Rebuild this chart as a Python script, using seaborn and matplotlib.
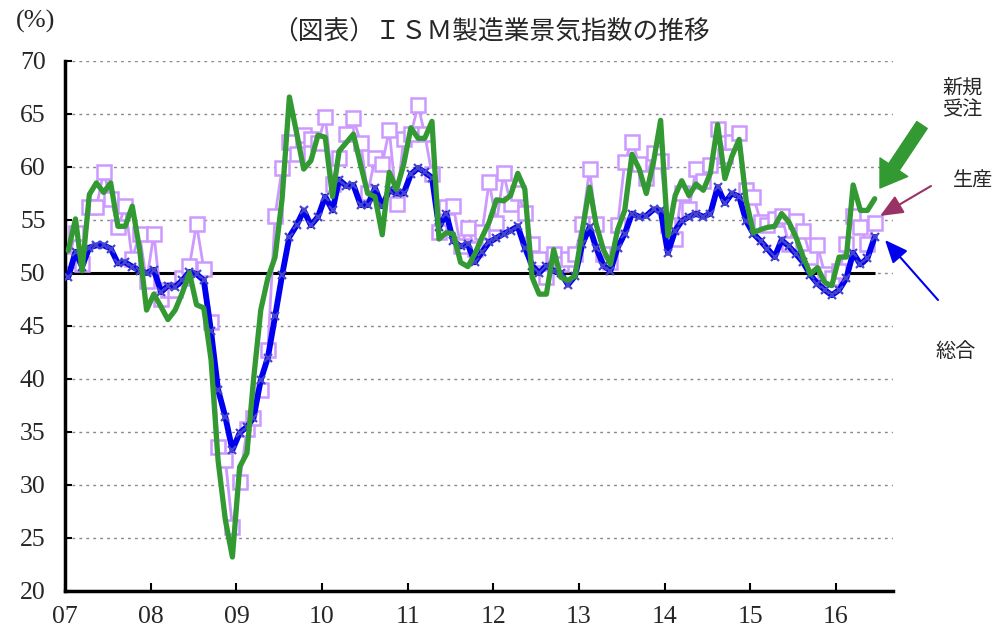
import numpy as np
import pandas as pd
import matplotlib
matplotlib.use('Agg')
import matplotlib.pyplot as plt
import matplotlib.dates as mdates
import seaborn as sns

# monthly values, Jan 2007 - Jun 2016
start_month = '2007-01-01'

sogo = [49.6, 52.0, 50.6, 52.4, 52.6, 52.6, 52.3, 50.9, 51.0, 50.6, 50.2, 50.0,
        50.3, 48.2, 48.8, 48.7, 49.3, 50.1, 49.9, 49.3, 44.5, 39.0, 36.4, 33.3,
        34.9, 35.5, 36.3, 39.9, 42.0, 45.9, 49.8, 53.4, 54.5, 55.9, 54.5, 55.3,
        57.2, 55.9, 58.8, 58.2, 58.3, 56.4, 56.4, 58.0, 56.3, 57.8, 57.5, 57.5,
        59.3, 59.9, 59.5, 59.0, 54.3, 55.6, 53.0, 52.5, 52.7, 51.0, 52.0, 52.9,
        53.3, 53.7, 54.0, 54.4, 52.4, 50.7, 50.0, 50.7, 50.2, 50.0, 48.9, 49.7,
        52.7, 54.3, 52.4, 50.7, 50.2, 52.4, 53.7, 55.6, 55.3, 55.4, 56.0, 55.9,
        51.9, 54.0, 54.9, 55.3, 55.6, 55.3, 55.6, 58.1, 56.6, 57.5, 57.2, 54.9,
        53.7, 53.0, 52.3, 51.5, 53.1, 52.5, 51.8, 51.0, 49.8, 49.0, 48.4, 47.9,
        48.4, 49.5, 51.9, 50.8, 51.4, 53.4]

seisan = [51.2, 53.8, 50.8, 56.2, 56.2, 59.5, 57.0, 54.3, 56.3, 51.3, 53.7, 49.2,
          53.7, 47.5, 48.4, 48.4, 49.5, 50.7, 54.6, 50.4, 45.4, 33.6, 32.4, 26.0,
          30.3, 35.3, 36.3, 39.0, 42.7, 55.4, 59.9, 62.4, 61.2, 63.0, 62.6, 62.3,
          64.7, 58.4, 60.8, 63.1, 64.6, 62.3, 57.5, 60.8, 60.3, 63.5, 56.5, 62.6,
          63.1, 65.8, 63.1, 59.3, 53.9, 56.2, 56.3, 52.5, 54.2, 52.3, 53.9, 58.6,
          54.7, 59.4, 56.5, 57.5, 55.7, 52.7, 51.3, 49.6, 51.8, 50.8, 51.3, 51.8,
          54.6, 59.8, 54.6, 51.8, 51.0, 54.5, 60.5, 62.4, 60.3, 59.0, 61.3, 60.6,
          54.5, 53.2, 57.5, 56.0, 59.8, 58.7, 60.2, 63.6, 61.0, 62.4, 63.2, 57.8,
          57.2, 54.8, 54.5, 55.1, 55.4, 52.7, 54.9, 54.0, 51.5, 52.6, 49.9, 49.5,
          50.2, 52.7, 55.4, 54.3, 52.7, 54.7]

juchu = [52.1, 55.1, 50.2, 57.4, 58.5, 57.6, 58.5, 54.4, 54.4, 56.3, 52.3, 46.5,
         48.0, 46.8, 45.6, 46.5, 48.1, 50.0, 47.0, 46.7, 41.8, 32.3, 26.7, 23.2,
         31.7, 33.0, 39.9, 46.5, 49.5, 51.5, 57.0, 66.6, 63.2, 59.8, 60.6, 63.0,
         62.8, 57.2, 61.5, 62.3, 63.1, 60.2, 57.5, 57.2, 53.6, 59.5, 57.9, 60.2,
         63.7, 62.7, 62.7, 64.3, 53.2, 53.8, 53.7, 51.0, 50.6, 51.8, 53.4, 54.8,
         56.9, 56.8, 57.3, 59.4, 57.9, 49.6, 48.0, 48.0, 52.2, 49.6, 49.3, 49.7,
         54.0, 58.1, 54.6, 52.2, 50.8, 54.1, 55.9, 61.2, 59.8, 57.5, 60.5, 64.4,
         53.5, 57.3, 58.7, 57.3, 58.4, 57.8, 59.4, 64.0, 58.9, 61.0, 62.6, 56.8,
         53.8, 54.1, 54.3, 54.4, 55.6, 54.8, 53.4, 51.5, 49.9, 50.5, 49.1, 48.8,
         51.5, 51.5, 58.3, 55.9, 55.9, 57.0]

year_labels = ['07', '08', '09', '10', '11', '12', '13', '14', '15', '16']

title = '（図表）ＩＳＭ製造業景気指数の推移'
label_juchu = '新規\n受注'
label_seisan = '生産'
label_sogo = '総合'

months = pd.date_range(start_month, periods=len(sogo), freq='MS') + pd.Timedelta(days=14)
df = pd.DataFrame({'month': months, 'sogo': sogo, 'seisan': seisan, 'juchu': juchu})

sns.set_theme(style='white')
plt.rcParams['font.family'] = ['Liberation Serif', 'Noto Sans CJK JP']

GREEN = '#339933'
BLUE = '#0000ee'
PURPLE = '#cc99ff'

fig = plt.figure(figsize=(10.07, 6.33), dpi=100)
ax = fig.add_axes([0.0645, 0.0664, 0.8223, 0.8373])

ax.hlines(50, months[0], months[-1], color='black', lw=2.2, zorder=1.5)

sns.lineplot(data=df, x='month', y='seisan', ax=ax, color=PURPLE, lw=2,
             marker='s', markersize=9.5, markerfacecolor='white',
             markeredgecolor=PURPLE, markeredgewidth=1.8, zorder=2)
sns.lineplot(data=df, x='month', y='sogo', ax=ax, color=BLUE, lw=4.2,
             marker='x', markersize=6, markeredgecolor='#4444cc',
             markeredgewidth=1.6, zorder=3)
sns.lineplot(data=df, x='month', y='juchu', ax=ax, color=GREEN, lw=3.8, zorder=4)

ax.set_ylim(20, 70)
ax.set_yticks(np.arange(20, 71, 5))
ax.set_xlim(pd.Timestamp(start_month), pd.Timestamp(start_month) + pd.DateOffset(months=116))
ax.xaxis.set_major_locator(mdates.YearLocator())
ax.set_xticks(ax.get_xticks())
ax.set_xticklabels(year_labels)
ax.set_xlabel('')
ax.set_ylabel('')

ax.yaxis.grid(True, linestyle=(0, (2, 3)), color='#888888', lw=1)
ax.set_axisbelow(True)
for side in ['top', 'right']:
    ax.spines[side].set_visible(False)
for side in ['left', 'bottom']:
    ax.spines[side].set_color('black')
    ax.spines[side].set_linewidth(2.5)

ax.tick_params(axis='y', direction='in', length=5, width=1.5, color='black',
               labelsize=18.5, pad=14, left=True)
ax.tick_params(axis='x', direction='in', length=6, width=1.5, color='black',
               labelsize=18.5, pad=11, bottom=True)

fig.text(491 / 1007, 1 - 32 / 633, title, ha='center', va='center', fontsize=18.5)
fig.text(36 / 1007, 1 - 21 / 633, '(%)', ha='center', va='center', fontsize=19)

fig.text(963 / 1007, 1 - 100 / 633, label_juchu, ha='center', va='center',
         fontsize=14.5, linespacing=1.25)
fig.text(973 / 1007, 1 - 182 / 633, label_seisan, ha='center', va='center', fontsize=14.5)
fig.text(956 / 1007, 1 - 353 / 633, label_sogo, ha='center', va='center', fontsize=14.5)

H = 633
ax.annotate('', xy=(880, H - 188), xytext=(922, H - 125), xycoords='figure pixels',
            arrowprops=dict(arrowstyle='simple,head_length=0.9,head_width=1.2,tail_width=0.45',
                            color=GREEN, mutation_scale=20, shrinkA=0, shrinkB=0))
ax.annotate('', xy=(880, H - 216), xytext=(931, H - 186), xycoords='figure pixels',
            arrowprops=dict(arrowstyle='-|>,head_length=0.7,head_width=0.3',
                            color='#993366', lw=1.5, mutation_scale=20, shrinkA=0, shrinkB=0))
ax.annotate('', xy=(885, H - 240), xytext=(938, H - 300), xycoords='figure pixels',
            arrowprops=dict(arrowstyle='-|>,head_length=0.7,head_width=0.3',
                            color=BLUE, lw=1.5, mutation_scale=20, shrinkA=0, shrinkB=0))

plt.savefig('out.png', dpi=100)
